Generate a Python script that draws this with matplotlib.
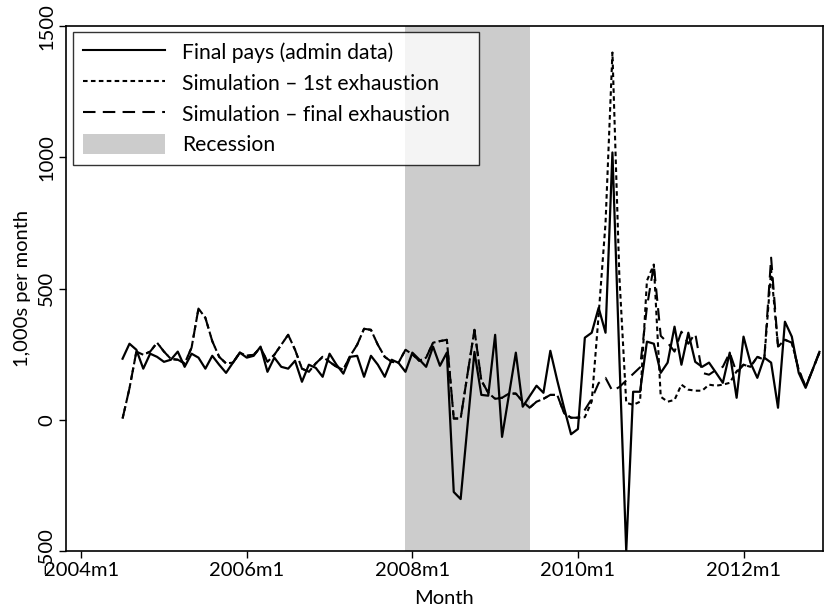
import numpy as np
import pandas as pd
import matplotlib
matplotlib.use("Agg")
import matplotlib.pyplot as plt
from matplotlib.patches import Patch
from matplotlib.lines import Line2D

plt.rcParams['font.family'] = ['Lato', 'DejaVu Sans']

# monthly series, 2004m7 .. 2012m12 (1,000s per month)
months = pd.period_range('2004-07', '2012-12', freq='M')

final_pays = [
    233, 290, 267, 195, 252, 240,                                   # 2004m7-12
    221, 229, 260, 202, 252, 237, 195, 244, 210, 179, 218, 256,     # 2005
    237, 244, 279, 183, 237, 202, 195, 225, 145, 210, 198, 164,     # 2006
    252, 210, 176, 240, 244, 164, 244, 210, 164, 229, 217, 183,     # 2007
    256, 230, 202, 279, 206, 256, -275, -302, -20, 259, 95, 92,     # 2008
    324, -65, 95, 256, 50, 90, 130, 103, 263, 150, 45, -55,         # 2009
    -35, 313, 332, 427, 332, 1019, 240, -500, 107, 107, 298, 290,   # 2010
    179, 218, 355, 210, 332, 221, 202, 218, 180, 141, 256, 84,      # 2011
    317, 218, 160, 237, 218, 46, 374, 317, 179, 122, 190, 259,      # 2012
]

sim_final = [
    5, 120, 260, 248, 260, 294,
    260, 232, 229, 215, 275, 424, 389, 300, 240, 215, 218, 256,
    244, 248, 275, 221, 248, 286, 324, 267, 195, 183, 215, 240,
    221, 202, 191, 244, 286, 347, 343, 286, 240, 221, 218, 267,
    250, 225, 237, 294, 300, 305, 5, 5, 175, 343, 150, 103,
    80, 84, 100, 100, 70, 46, 69, 80, 95, 95, 25, 8,
    8, 38, 80, 140, 160, 110, 125, 150, 175, 200, 430, 590,
    320, 294, 260, 336, 290, 330, 179, 172, 190, 202, 256, 179,
    210, 202, 240, 229, 618, 279, 305, 294, 191, 126, 190, 256,
]

sim_first = [
    5, 120, 260, 248, 260, 294,
    260, 232, 229, 215, 275, 424, 389, 300, 240, 215, 218, 256,
    244, 248, 275, 221, 248, 286, 324, 267, 195, 183, 215, 240,
    221, 202, 191, 244, 286, 347, 343, 286, 240, 221, 218, 267,
    250, 225, 237, 294, 300, 305, 5, 5, 175, 343, 150, 103,
    80, 84, 100, 100, 70, 46, 69, 80, 95, 95, 25, 8,
    8, 10, 70, 400, 750, 1400, 550, 65, 57, 69, 530, 592,
    88, 69, 76, 134, 115, 111, 111, 134, 130, 134, 141, 185,
    210, 202, 240, 229, 570, 279, 305, 294, 191, 126, 190, 256,
]

recession = ('2007-12', '2009-06')
tick_months = ['2004-01', '2006-01', '2008-01', '2010-01', '2012-01']

base = pd.Period('2004-01', freq='M')
def mnum(p):
    return (pd.Period(p, freq='M') - base).n

x = np.array([(m - base).n for m in months])

fs = 14.5
fig = plt.figure(figsize=(8.27, 6.11), dpi=100)
ax = fig.add_axes([0.0798, 0.0982, 0.9152, 0.8588])

ax.axvspan(mnum(recession[0]), mnum(recession[1]), color='#cccccc', lw=0, zorder=0)
ax.plot(x, sim_first, color='black', lw=1.5, linestyle=(0, (2.2, 1.6)), zorder=2)
ax.plot(x, sim_final, color='black', lw=1.5, linestyle=(0, (6, 3.5)), zorder=2)
ax.plot(x, final_pays, color='black', lw=1.6, zorder=3)

ax.set_xlim(-2.2, 107.5)
ax.set_ylim(-500, 1500)
ax.set_xticks([mnum(t) for t in tick_months])
ax.set_xticklabels([t[:4] + 'm1' for t in tick_months])
ax.set_yticks([-500, 0, 500, 1000, 1500])
ax.tick_params(axis='both', direction='out', length=5, width=1, labelsize=fs, pad=3)
ax.tick_params(axis='y', labelrotation=90)
for lab in ax.get_yticklabels():
    lab.set_va('center')
ax.set_xlabel('Month', fontsize=fs, labelpad=8)
ax.set_ylabel('1,000s per month', fontsize=fs, labelpad=5)
for s in ax.spines.values():
    s.set_linewidth(1.2)

handles = [
    Line2D([], [], color='black', lw=1.5),
    Line2D([], [], color='black', lw=1.5, linestyle=(0, (2.2, 1.6))),
    Line2D([], [], color='black', lw=1.5, linestyle=(0, (6, 3.5))),
    Patch(facecolor='#cccccc', edgecolor='none'),
]
labels = ['Final pays (admin data)', 'Simulation \u2013 1st exhaustion',
          'Simulation \u2013 final exhaustion', 'Recession']
leg = ax.legend(handles, labels, loc='upper left', fontsize=15.2, frameon=True,
                fancybox=False, edgecolor='black', handlelength=3.9,
                bbox_to_anchor=(0.0093, 0.0, 0.5363, 0.9886), mode='expand',
                borderaxespad=0.0, borderpad=0.45, labelspacing=0.45,
                handletextpad=0.8, handleheight=1.1)
leg.get_frame().set_linewidth(1.0)

fig.savefig('out.png', dpi=100)
